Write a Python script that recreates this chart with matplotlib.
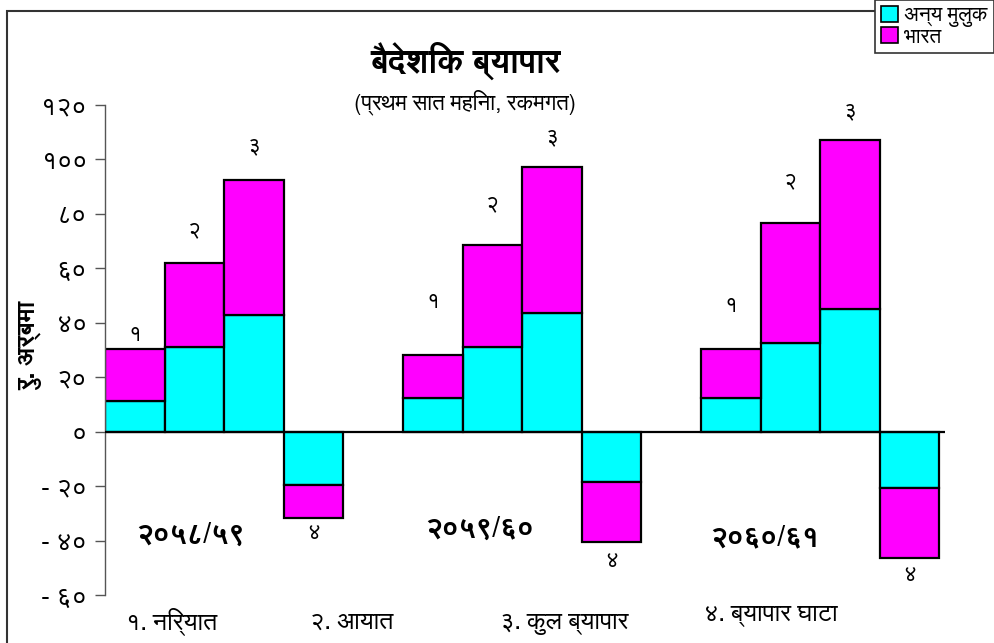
import numpy as np
import matplotlib
matplotlib.use('Agg')
import matplotlib.pyplot as plt
from matplotlib import font_manager
from matplotlib.patches import Rectangle, Patch

# pick a Devanagari font that is installed here
installed = {f.name for f in font_manager.fontManager.ttflist}
deva = next((n for n in ['FreeSans', 'Hind', 'Mukta', 'Noto Sans Devanagari']
             if n in installed), None)
families = [deva, 'DejaVu Sans'] if deva else ['DejaVu Sans']
plt.rcParams['font.family'] = families

DIG = str.maketrans('0123456789', '०१२३४५६७८९')

years = ['२०५८/५९', '२०५९/६०', '२०६०/६१']
categories = ['१. निर्यात', '२. आयात', '३. कुल ब्यापार', '४. ब्यापार घाटा']
bar_marks = ['१', '२', '३', '४']
series_names = ['अन्य मुलुक', 'भारत']

# rs. billion, first seven months
other = [[11.1, 31.0, 42.8, -19.6],
         [12.5, 31.0, 43.5, -18.5],
         [12.5, 32.5, 45.0, -20.7]]
india = [[19.2, 31.0, 49.5, -12.1],
         [15.5, 37.6, 53.9, -22.1],
         [17.8, 44.3, 62.0, -25.8]]

# where the small bar numbers sit
mark_y = [[35.4, 74.0, 104.8, -37.3],
          [47.6, 83.4, 108.0, -47.6],
          [45.8, 92.0, 117.7, -53.0]]
year_pos = [(1.43, -38.0), (6.29, -35.8), (11.07, -39.0)]

yticks = np.arange(-60, 121, 20)

fig = plt.figure(figsize=(9.94, 6.43), dpi=100)
ax = fig.add_axes([0.1056, 0.0747, 0.8454, 0.762])

for g in range(len(years)):
    x = np.arange(4) + g * 5
    ax.bar(x, other[g], width=1.0, align='edge', color='#00ffff',
           edgecolor='black', linewidth=1.6, zorder=2)
    ax.bar(x, india[g], bottom=other[g], width=1.0, align='edge',
           color='#ff00ff', edgecolor='black', linewidth=1.6, zorder=2)
    for i in range(4):
        ax.text(x[i] + 0.5, mark_y[g][i], bar_marks[i], ha='center',
                va='center', fontsize=16)
    ax.text(year_pos[g][0], year_pos[g][1], years[g], ha='center',
            va='center', fontsize=21, fontweight='bold')

ax.axhline(0, color='black', linewidth=1.6, zorder=3)
ax.set_xlim(0, 14.1)
ax.set_ylim(-60, 120)
ax.set_yticks(yticks)
ax.set_yticklabels([str(v).replace('-', '- ').translate(DIG) for v in yticks],
                   fontsize=19)
ax.tick_params(axis='y', direction='out', length=7, width=1, color='#555555', pad=6)
ax.set_xticks([])
for s in ['top', 'right', 'bottom']:
    ax.spines[s].set_visible(False)
ax.spines['left'].set_color('#555555')
ax.spines['left'].set_linewidth(1)

fig.text(0.468, 0.905, 'बैदेशिक ब्यापार', ha='center', va='center',
         fontsize=24, fontweight='bold')
fig.text(0.468, 0.841, '(प्रथम सात महिना, रकमगत)', ha='center', va='center',
         fontsize=16)
fig.text(0.03, 0.463, 'रु. अर्बमा', rotation=90, ha='center', va='center',
         fontsize=18, fontweight='bold')

cat_x = [0.173, 0.354, 0.568, 0.775]
cat_y = [0.032, 0.032, 0.032, 0.045]
for cx, cy, c in zip(cat_x, cat_y, categories):
    fig.text(cx, cy, c, ha='center', va='center', fontsize=18)

# outer frame
fig.patches.append(Rectangle((0.007, -0.02), 1.0, 1.003, transform=fig.transFigure,
                             fill=False, edgecolor='#333333', linewidth=1.5))

handles = [Patch(facecolor='#00ffff', edgecolor='black', linewidth=1.2),
           Patch(facecolor='#ff00ff', edgecolor='black', linewidth=1.2)]
leg = fig.legend(handles, series_names, loc='upper right', bbox_to_anchor=(1.0, 1.0),
                 fontsize=15, frameon=True, fancybox=False, borderaxespad=0,
                 handlelength=0.8, handleheight=0.8, handletextpad=0.3,
                 labelspacing=0.0, borderpad=0.3)
leg.get_frame().set_edgecolor('#333333')
leg.get_frame().set_linewidth(1.2)
leg.get_frame().set_alpha(1)

fig.savefig('out.png', dpi=100)
